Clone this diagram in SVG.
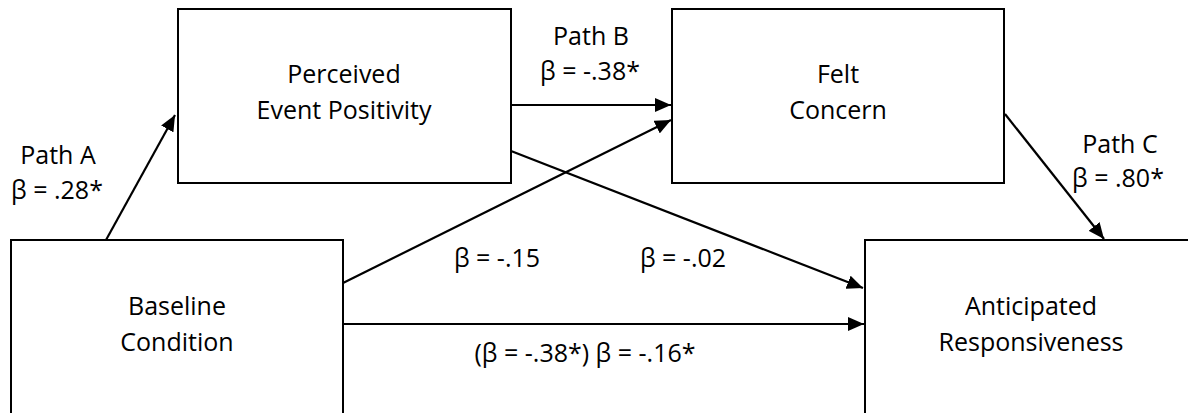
<svg xmlns="http://www.w3.org/2000/svg" width="1188" height="413" viewBox="0 0 1188 413">
<style>
.box{fill:#fff;stroke:#000;stroke-width:2}
.t{font-family:"Open Sans","Noto Sans",sans-serif;font-size:25px;fill:#000;text-anchor:middle}
.c{stroke:#000;stroke-width:2.2;fill:none;marker-end:url(#ah)}
</style>
<defs>
<marker id="ah" markerUnits="userSpaceOnUse" markerWidth="17" markerHeight="14" refX="16" refY="7" orient="auto">
<path d="M0,0 L16,7 L0,14 z" fill="#000"/>
</marker>
</defs>
<rect width="1188" height="413" fill="#fff"/>
<g id="n-perceived">
<rect class="box" x="178" y="9" width="333" height="174"/>
<text class="t" x="344" y="83">Perceived</text>
<text class="t" x="344" y="119">Event Positivity</text>
</g>
<g id="n-felt">
<rect class="box" x="672" y="9" width="332" height="174"/>
<text class="t" x="838" y="83">Felt</text>
<text class="t" x="838" y="119">Concern</text>
</g>
<g id="n-baseline">
<rect class="box" x="11" y="240" width="332" height="200"/>
<text class="t" x="177" y="315">Baseline</text>
<text class="t" x="177" y="351">Condition</text>
</g>
<g id="n-anticipated">
<rect class="box" x="865" y="240" width="340" height="200"/>
<text class="t" x="1031" y="315">Anticipated</text>
<text class="t" x="1031" y="351">Responsiveness</text>
</g>
<g id="connectors">
<line class="c" x1="106" y1="240" x2="175" y2="115"/>
<line class="c" x1="511" y1="105" x2="671" y2="105"/>
<line class="c" x1="343" y1="283" x2="671" y2="120"/>
<line class="c" x1="511" y1="151" x2="863" y2="288"/>
<line class="c" x1="343" y1="324" x2="864" y2="324"/>
<line class="c" x1="1005" y1="114" x2="1104" y2="239"/>
</g>
<g id="labels">
<text class="t" x="58" y="164">Path A</text>
<text class="t" x="57" y="199">β = .28*</text>
<text class="t" x="591" y="45">Path B</text>
<text class="t" x="590" y="80">β = -.38*</text>
<text class="t" x="497" y="267">β = -.15</text>
<text class="t" x="683" y="267">β = -.02</text>
<text class="t" x="585" y="362">(β = -.38*) β = -.16*</text>
<text class="t" x="1120" y="153">Path C</text>
<text class="t" x="1118" y="187">β = .80*</text>
</g>
</svg>
